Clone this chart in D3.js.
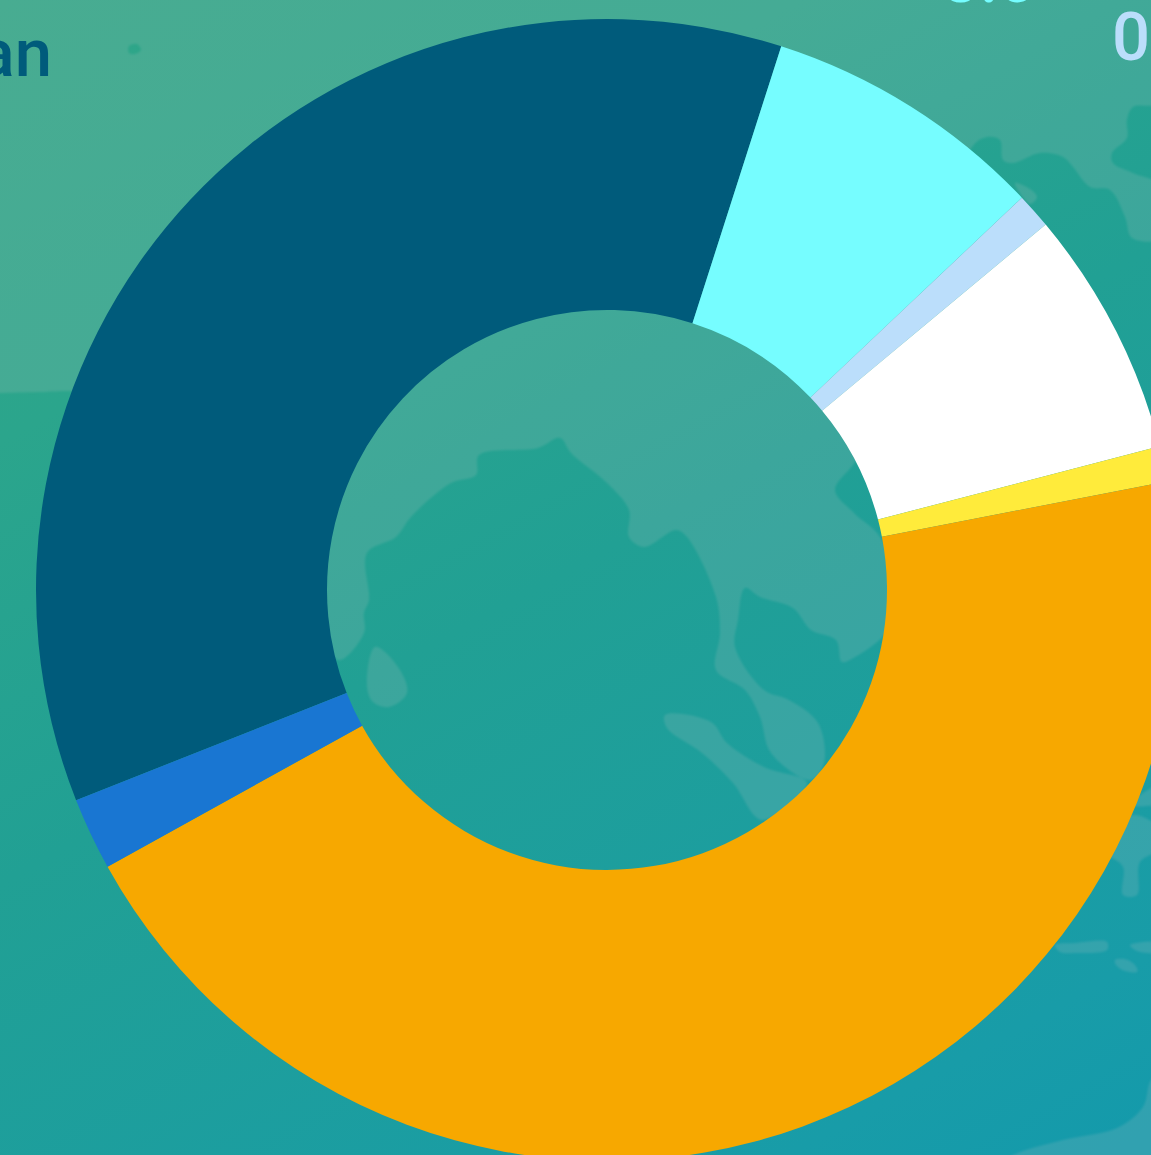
<!DOCTYPE html>
<html>
<head>
<meta charset="utf-8">
<style>
  html, body { margin: 0; padding: 0; background: #21a094; overflow: hidden; }
  svg { display: block; }
  .slice-label { font-family: Roboto, sans-serif; font-size: 67px; font-weight: 500; }
</style>
<script src="https://cdn.jsdelivr.net/npm/d3@7"></script>
</head>
<body>
<svg id="chart"></svg>
<script>
// Slices clockwise, starting at the dark blue one (share of total, %)
const sliceValues = [35.9, 8.0, 1.0, 7.0, 1.0, 44.95, 2.05];
const sliceColors = ['#005b7b', '#76fdff', '#bbdefb', '#ffffff', '#ffeb3b', '#f7a800', '#1976d2'];

// Only these bits of the labels are inside the frame
const labelTexts = ['an', '8.0', '0'];
const labelColors = ['#005b7b', '#76fdff', '#bbdefb'];
const labelAnchors = ['end', 'middle', 'start'];
const labelSpots = [[52, 76], [989, 2], [1112, 60]];

// Background map, traced by hand
const landMain = [
  [-10, -10], [1161, -10], [1161, 102], [1133, 107], [1127, 120], [1127, 138], [1112, 153], [1113, 163],
  [1133, 173], [1161, 186], [1161, 238], [1132, 238], [1125, 217], [1110, 190], [1090, 187],
  [1073, 167], [1063, 157], [1040, 153], [1013, 163], [1003, 160], [1000, 140], [987, 137], [972, 147],
  [870, 440], [853, 465], [835, 490], [854, 513], [880, 537], [900, 600], [884, 635], [855, 657],
  [842, 662], [836, 640], [811, 630], [793, 608], [760, 597], [745, 588], [738, 620], [735, 647],
  [764, 690], [789, 700], [818, 723], [824, 763], [811, 780], [771, 753], [760, 717], [745, 690],
  [716, 670], [720, 633], [716, 597], [687, 537], [676, 530], [644, 547], [629, 537], [629, 510],
  [607, 483], [571, 453], [560, 438], [538, 448], [479, 455], [476, 475], [451, 483], [411, 517],
  [396, 537], [367, 553], [369, 600], [364, 613], [364, 633], [338, 660], [300, 500], [150, 395],
  [75, 391], [40, 392], [0, 393], [-10, 393]
];
const landIslands = [
  [[665, 715], [711, 722], [727, 743], [764, 767], [807, 783], [762, 820], [733, 783], [702, 753], [667, 728]],
  [[375, 647], [398, 667], [407, 693], [389, 707], [373, 702], [367, 687]],
  [[1100, 830], [1135, 815], [1161, 830], [1161, 848], [1140, 862], [1137, 895], [1123, 895], [1123, 867], [1110, 857], [1090, 850]],
  [[1161, 785], [1140, 795], [1130, 805], [1161, 802]],
  [[1055, 945], [1075, 943], [1107, 942], [1107, 950], [1075, 953], [1060, 952]],
  [[1130, 945], [1161, 943], [1161, 952], [1137, 951]],
  [[1115, 960], [1128, 960], [1137, 968], [1137, 972], [1125, 971], [1116, 965]],
  [[1000, 1165], [1013, 1155], [1063, 1140], [1117, 1128], [1143, 1107], [1151, 1080], [1165, 1070], [1165, 1165]],
  [[1015, 183], [1030, 189], [1037, 197], [1030, 204]],
  // small lake, cut out by the even-odd fill
  [[129, 46], [137, 44], [141, 50], [135, 54], [129, 53]]
];

const width = 1151;
const height = 1155;
const centerX = 607;
const centerY = 590;
const innerRadius = 280;
const outerRadius = 571;

const svg = d3.select('#chart').attr('width', width).attr('height', height);

// ── Background ───────────────────────────────────────────────────────────

const defs = svg.append('defs');

const gradient = defs.append('linearGradient')
  .attr('id', 'sea')
  .attr('gradientUnits', 'userSpaceOnUse')
  .attr('x1', 0).attr('y1', 0)
  .attr('x2', 747).attr('y2', 1354);

[[0, '#2fa688'], [0.25, '#2ba58c'], [0.5, '#21a094'], [0.9, '#189ca8'], [1, '#149aab']].forEach(s => {
  gradient.append('stop').attr('offset', s[0]).attr('stop-color', s[1]);
});

defs.append('filter').attr('id', 'soft')
  .append('feGaussianBlur').attr('stdDeviation', 0.8);

svg.append('rect')
  .attr('width', width).attr('height', height)
  .attr('fill', 'url(#sea)');

const landLine = d3.line().curve(d3.curveCatmullRomClosed.alpha(0.5));

svg.append('path')
  .attr('d', [landMain, ...landIslands].map(p => landLine(p)).join(''))
  .attr('fill', 'rgb(240,205,205)')
  .attr('fill-opacity', 0.13)
  .attr('fill-rule', 'evenodd')
  .attr('filter', 'url(#soft)');

// ── Donut ────────────────────────────────────────────────────────────────

const startAngle = -111.6 * Math.PI / 180;

const pie = d3.pie()
  .sort(null)
  .startAngle(startAngle)
  .endAngle(startAngle + 2 * Math.PI);

const arc = d3.arc().innerRadius(innerRadius).outerRadius(outerRadius);

svg.append('g')
  .attr('transform', `translate(${centerX},${centerY})`)
  .selectAll('path')
  .data(pie(sliceValues))
  .join('path')
  .attr('d', arc)
  .attr('fill', (d, i) => sliceColors[i]);

// ── Labels ───────────────────────────────────────────────────────────────

svg.append('g')
  .selectAll('text')
  .data(labelTexts)
  .join('text')
  .attr('class', 'slice-label')
  .attr('x', (d, i) => labelSpots[i][0])
  .attr('y', (d, i) => labelSpots[i][1])
  .attr('text-anchor', (d, i) => labelAnchors[i])
  .attr('fill', (d, i) => labelColors[i])
  .text(d => d);
</script>
</body>
</html>
